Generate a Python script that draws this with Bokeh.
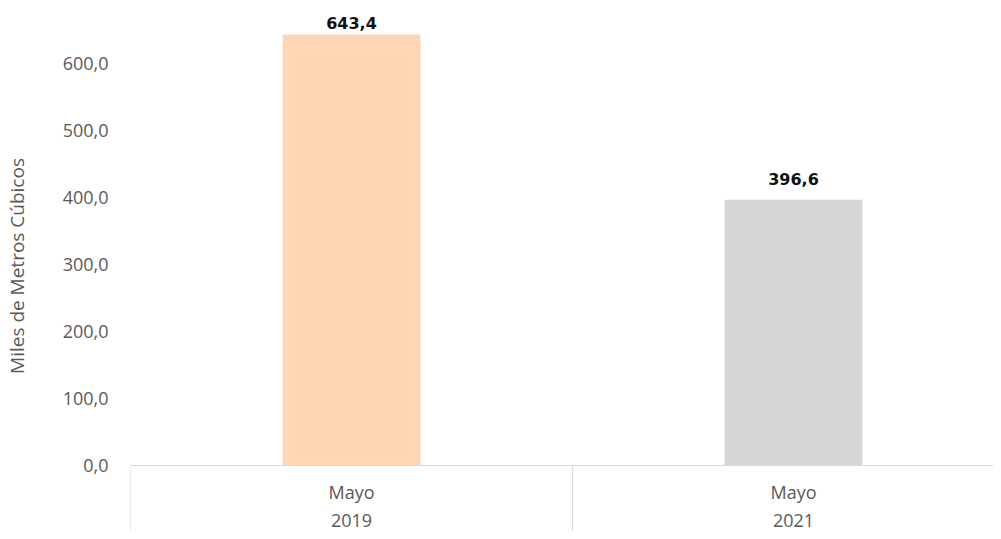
from bokeh.plotting import figure
from bokeh.models import Range1d, FixedTicker, Span, ColumnDataSource
from bokeh.core.properties import value
from bokeh.embed import file_html
from bokeh.resources import INLINE

# ---- data ----
months = ["Mayo", "Mayo"]
years = ["2019", "2021"]
values = [643.4, 396.6]
bar_colors = ["#FED6B6", "#D6D6D6"]
y_ticks = [0, 100, 200, 300, 400, 500, 600]
y_title = "Miles de Metros Cúbicos"

def fmt(v):
    return f"{v:.1f}".replace(".", ",")

FONT = "Open Sans"
n = len(values)
xs = [i + 0.5 for i in range(n)]

# layout constants (pixels)
W, H = 993, 531
left = 130
px_per_unit = 0.67
zero_px_from_top = 465
frame_w = W - left
cat_w = 442
label_gaps = [-5, -15]  # first label is squeezed by the top of the chart area

p = figure(width=W, height=H, output_backend="svg", toolbar_location=None,
           x_range=Range1d(0, frame_w / cat_w),
           y_range=Range1d(-(H - zero_px_from_top) / px_per_unit, zero_px_from_top / px_per_unit),
           x_axis_location=None, min_border_left=left, min_border_right=0,
           min_border_top=0, min_border_bottom=0)
p.outline_line_color = None
p.grid.visible = False
p.background_fill_color = "white"
p.border_fill_color = "white"

yax = p.yaxis[0]
yax.ticker = FixedTicker(ticks=y_ticks)
yax.major_label_overrides = {t: fmt(t) for t in y_ticks}
yax.axis_line_color = None
yax.major_tick_line_color = None
yax.minor_tick_line_color = None
yax.major_tick_out = 0
yax.major_tick_in = 0
yax.major_label_standoff = 22
yax.major_label_text_font = FONT
yax.major_label_text_font_size = "18px"
yax.major_label_text_color = "#595959"
yax.axis_label = y_title
yax.axis_label_standoff = 30
yax.axis_label_text_font = FONT
yax.axis_label_text_font_size = "19px"
yax.axis_label_text_font_style = "normal"
yax.axis_label_text_color = "#595959"

# bars
p.vbar(x=xs, top=values, width=0.312, color=bar_colors, line_color=None)

# value labels
lab_src = ColumnDataSource(dict(x=xs, y=values, t=[fmt(v) for v in values], off=label_gaps))
p.text(x="x", y="y", text="t", source=lab_src, text_align="center",
       text_baseline="bottom", y_offset="off", text_font=value("DejaVu Sans"),
       text_font_style="bold", text_font_size="16px", text_color="#111111")

# category axis lines
p.add_layout(Span(location=0, dimension="width", line_color="#D9D9D9", line_width=1.2))
seps = list(range(n + 1))
p.segment(x0=seps, y0=[0] * len(seps), x1=seps, y1=[p.y_range.start] * len(seps),
          line_color="#D9D9D9", line_width=1.2)

# category labels
p.text(x=xs, y=[0] * n, text=months, text_align="center", text_baseline="middle",
       y_offset=26, text_font=value(FONT), text_font_size="18px", text_color="#595959")
p.text(x=xs, y=[0] * n, text=years, text_align="center", text_baseline="middle",
       y_offset=55, text_font=value(FONT), text_font_size="18px", text_color="#595959")

open("out.html", "w").write(file_html(p, INLINE))
